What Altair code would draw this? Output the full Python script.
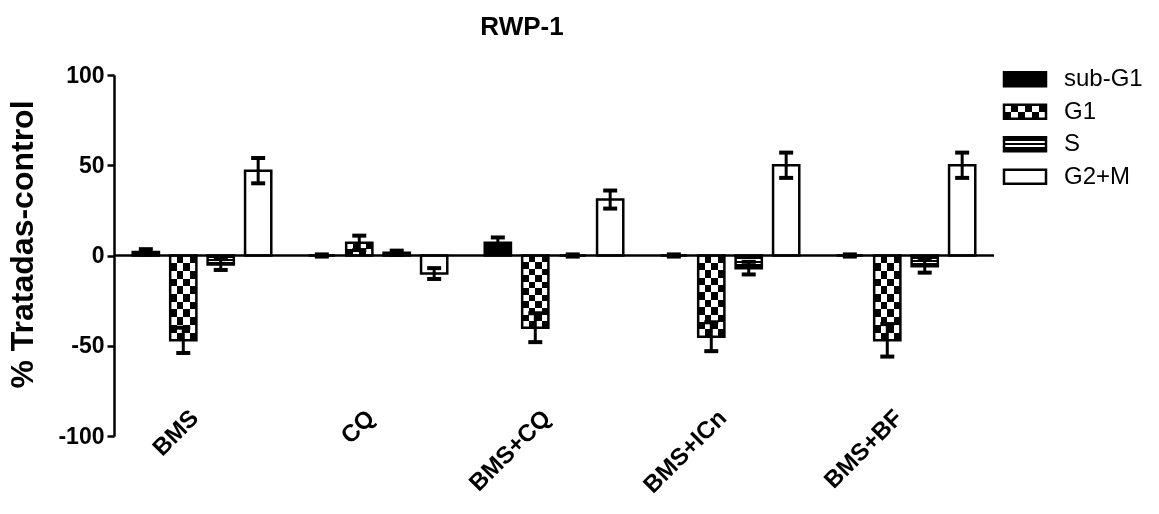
import altair as alt
import pandas as pd

groups = ["BMS", "CQ", "BMS+CQ", "BMS+ICn", "BMS+BF"]
series = ["sub-G1", "G1", "S", "G2+M"]

sub_g1 = [2, 0, 7, 0, 0]
sub_g1_err = [1.5, 0.6, 3, 0.6, 0.6]
g1 = [-47, 7, -40, -45, -47]
g1_err = [7, 4, 8, 8, 9]
s_vals = [-5, 1.5, 0, -7, -6]
s_err = [3, 1.2, 0.6, 3.5, 3.5]
g2m = [47, -10, 31, 50, 50]
g2m_err = [7, 3, 5, 7, 7]

rows = []
for name, vals, errs in [("sub-G1", sub_g1, sub_g1_err), ("G1", g1, g1_err),
                         ("S", s_vals, s_err), ("G2+M", g2m, g2m_err)]:
    for g, v, e in zip(groups, vals, errs):
        rows.append({"group": g, "series": name, "value": v, "err": e})
df = pd.DataFrame(rows)
legend_df = pd.DataFrame({"series": series})

FONT = "Liberation Sans"
SW = 2.5


def stripes(n, horizontal, c1="black", c2="white"):
    stops = []
    for i in range(n):
        c = c1 if i % 2 == 0 else c2
        stops.append({"offset": i / n, "color": c})
        stops.append({"offset": (i + 1) / n, "color": c})
    return {"gradient": "linear", "stops": stops,
            "x1": 0, "y1": 0, "x2": 1 if horizontal else 0, "y2": 0 if horizontal else 1}


def s_fill():
    pts = [(0, "black"), (0.3, "black"), (0.3, "white"), (0.42, "white"), (0.42, "black"),
           (0.58, "black"), (0.58, "white"), (0.7, "white"), (0.7, "black"), (1, "black")]
    return {"gradient": "linear", "stops": [{"offset": o, "color": c} for o, c in pts],
            "x1": 0, "y1": 0, "x2": 0, "y2": 1}


x_enc = alt.X("group:N", sort=groups, scale=alt.Scale(paddingInner=0, paddingOuter=0),
              axis=alt.Axis(title=None, labelAngle=-45, labelAlign="right", labelBaseline="middle",
                            domain=False, ticks=False, labelFont=FONT, labelFontSize=24,
                            labelFontWeight="bold", labelColor="black", labelPadding=0,
                            labelOffset=-7, offset=-22))
xo_enc = alt.XOffset("series:N", sort=series,
                     scale=alt.Scale(domain=series, paddingInner=0.3, paddingOuter=0.5))
y_enc = alt.Y("value:Q", scale=alt.Scale(domain=[-100, 100], nice=False),
              axis=alt.Axis(values=[-100, -50, 0, 50, 100], grid=False, domainColor="black",
                            domainWidth=SW, tickColor="black", tickWidth=SW, tickSize=7,
                            labelFont=FONT, labelFontSize=23, labelFontWeight="bold",
                            labelColor="black", labelPadding=3, labelExpr="'' + datum.value",
                            title="% Tratadas-control", titleFont=FONT, titleFontSize=32,
                            titleFontWeight="bold", titleColor="black", titleAngle=270,
                            titleX=-92, titleY=169, titleAlign="center", titleBaseline="middle"))

base = alt.Chart(df).encode(x=x_enc, xOffset=xo_enc)

plain = base.transform_filter(
    "datum.series == 'sub-G1' || datum.series == 'G2+M'"
).mark_bar(stroke="black", strokeWidth=SW).encode(
    y=y_enc,
    fill=alt.condition(alt.datum.series == "sub-G1", alt.value("black"), alt.value("white")),
)

g1_neg = base.transform_filter("datum.series == 'G1' && datum.value < 0")
g1_pos = base.transform_filter("datum.series == 'G1' && datum.value >= 0")
g1_layers = [
    g1_neg.mark_bar(fill=stripes(4, True), strokeWidth=0).encode(y=y_enc),
    g1_neg.mark_bar(fill=stripes(11, False, "white", "black"), strokeWidth=0, blend="difference").encode(y=y_enc),
    g1_pos.mark_bar(fill=stripes(4, True), strokeWidth=0).encode(y=y_enc),
    g1_pos.mark_bar(fill=stripes(2, False, "white", "black"), strokeWidth=0, blend="difference").encode(y=y_enc),
    base.transform_filter("datum.series == 'G1'").mark_bar(fillOpacity=0, stroke="black", strokeWidth=SW).encode(y=y_enc),
]

s_bars = base.transform_filter("datum.series == 'S'").mark_bar(
    fill=s_fill(), stroke="black", strokeWidth=SW).encode(y=y_enc)

eb = base.transform_calculate(lo="datum.value - datum.err", hi="datum.value + datum.err")
err_rule = eb.mark_rule(color="black", strokeWidth=3, opacity=1).encode(
    y=alt.Y("lo:Q", scale=alt.Scale(domain=[-100, 100], nice=False)), y2="hi:Q")
cap_lo = eb.mark_tick(color="black", thickness=4, size=14, opacity=1).encode(y=alt.Y("lo:Q"))
cap_hi = eb.mark_tick(color="black", thickness=4, size=14, opacity=1).encode(y=alt.Y("hi:Q"))

zero = alt.Chart(pd.DataFrame({"z": [0]})).mark_rule(color="black", strokeWidth=SW).encode(y=alt.Y("z:Q"))

main = alt.layer(plain, *g1_layers, s_bars, zero, err_rule, cap_lo, cap_hi)

# legend
ly = alt.Y("series:N", sort=series, axis=None,
           scale=alt.Scale(domain=series, range=[-12, 118], paddingInner=0.567, paddingOuter=0.283))
lbase = alt.Chart(legend_df).encode(y=ly)
lx = dict(x=alt.value(890), x2=alt.value(932))
leg_layers = [
    lbase.transform_filter("datum.series == 'sub-G1' || datum.series == 'G2+M'").mark_rect(stroke="black", strokeWidth=SW).encode(
        fill=alt.condition(alt.datum.series == "sub-G1", alt.value("black"), alt.value("white")), **lx),
    lbase.transform_filter("datum.series == 'G1'").mark_rect(fill=stripes(6, True), strokeWidth=0).encode(**lx),
    lbase.transform_filter("datum.series == 'G1'").mark_rect(fill=stripes(2, False, "white", "black"), strokeWidth=0, blend="difference").encode(**lx),
    lbase.transform_filter("datum.series == 'G1'").mark_rect(fillOpacity=0, stroke="black", strokeWidth=SW).encode(**lx),
    lbase.transform_filter("datum.series == 'S'").mark_rect(fill=s_fill(), stroke="black", strokeWidth=SW).encode(**lx),
    lbase.mark_text(align="left", baseline="middle", font=FONT, fontSize=24, color="black").encode(
        x=alt.value(950), text="series:N"),
]
legend = alt.layer(*leg_layers)

chart = alt.layer(main, legend).resolve_scale(y="independent").properties(
    width=880, height=361,
    title=alt.TitleParams("RWP-1", font=FONT, fontSize=26, fontWeight="bold", color="black",
                          anchor="middle", dx=-32, offset=24),
    autosize=alt.AutoSizeParams(type="none"),
    padding={"left": 114, "top": 75, "right": 165, "bottom": 78},
).configure_view(stroke=None)

chart.save("out.html", embed_options={"renderer": "svg", "actions": False})
